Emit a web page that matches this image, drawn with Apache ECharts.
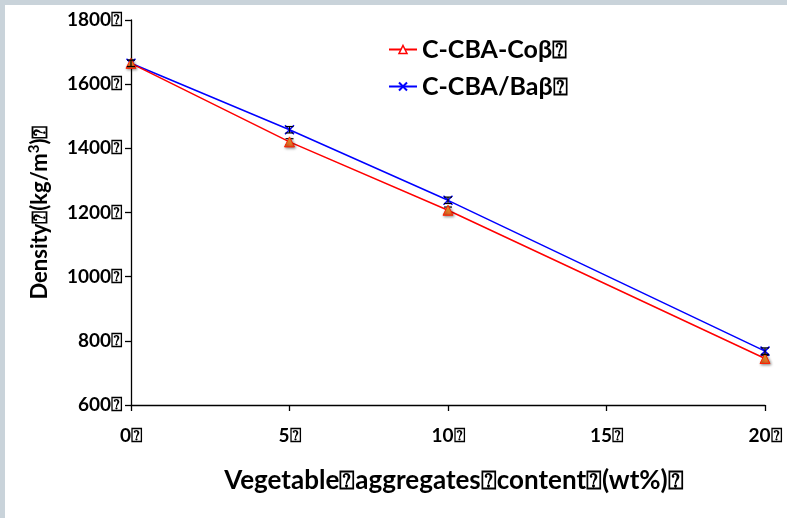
<!DOCTYPE html>
<html>
<head>
<meta charset="utf-8">
<script src="https://cdn.jsdelivr.net/npm/echarts@6/dist/echarts.min.js"></script>
<style>
  html, body { margin: 0; padding: 0; background: #c9d3da; }
  #frame { position: absolute; left: 5px; top: 5px; width: 782px; height: 513px; background: #ffffff; }
  #chart { position: absolute; left: -5px; top: -5px; width: 787px; height: 518px; }
</style>
</head>
<body>
<div id="frame"><div id="chart"></div></div>
<script>
// Aggregate content (wt%) and measured densities (kg/m3)
const contents = [0, 5, 10, 20];
const densityCo = [1665, 1420, 1207, 745];
const densityBa = [1665, 1458, 1238, 768];
const errCo = [10, 10, 10, 10];
const errBa = [10, 10, 10, 10];
const seriesNames = ['C-CBA-Co\u03B2\u2370', 'C-CBA/Ba\u03B2\u2370'];
const xTicks = [0, 5, 10, 15, 20];
const yTicks = [600, 800, 1000, 1200, 1400, 1600, 1800];

const FONT = 'Lato, "Open Sans", sans-serif';
const WEIGHT = 'bold';
const BOX = '\u2370';
const crossPath = 'path://M0,0 L10,10 M10,0 L0,10 Z';

function pairs(xs, ys) { return xs.map((x, i) => [x, ys[i]]); }
function errData(xs, ys, es) { return xs.map((x, i) => [x, ys[i] - es[i], ys[i] + es[i]]); }

function errorBar(params, api) {
  const x = api.value(0);
  const lo = api.coord([x, api.value(1)]);
  const hi = api.coord([x, api.value(2)]);
  const w = 4;
  const style = { stroke: '#000', lineWidth: 1.2 };
  return {
    type: 'group',
    children: [
      { type: 'line', shape: { x1: lo[0], y1: lo[1], x2: hi[0], y2: hi[1] }, style },
      { type: 'line', shape: { x1: lo[0] - w, y1: lo[1], x2: lo[0] + w, y2: lo[1] }, style },
      { type: 'line', shape: { x1: hi[0] - w, y1: hi[1], x2: hi[0] + w, y2: hi[1] }, style }
    ]
  };
}

const chart = echarts.init(document.getElementById('chart'));
chart.setOption({
  backgroundColor: 'transparent',
  animation: false,
  grid: { left: 131, top: 20, right: 22, bottom: 113 },
  legend: {
    left: 383, top: 32, orient: 'vertical', itemGap: 12,
    itemWidth: 28, itemHeight: 10,
    textStyle: { fontFamily: FONT, fontWeight: WEIGHT, fontSize: 25, color: '#000' },
    data: [
      { name: seriesNames[0], itemStyle: { color: '#fff', borderColor: '#ff0000', borderWidth: 1.5 } },
      { name: seriesNames[1] }
    ]
  },
  xAxis: {
    type: 'value', min: 0, max: 20, interval: 5,
    axisLine: { lineStyle: { color: '#000', width: 1.3 } },
    axisTick: { show: true, length: 6, inside: false, lineStyle: { color: '#000', width: 1.3 } },
    splitLine: { show: false },
    axisLabel: {
      margin: 21, fontFamily: FONT, fontWeight: WEIGHT, fontSize: 19, color: '#000',
      formatter: v => xTicks.includes(v) ? v + BOX : ''
    },
    name: 'Vegetable' + BOX + 'aggregates' + BOX + 'content' + BOX + '(wt%)' + BOX,
    nameLocation: 'middle', nameGap: 63,
    nameTextStyle: { fontFamily: FONT, fontWeight: WEIGHT, fontSize: 26, color: '#000', padding: [0, 0, 0, 12] }
  },
  yAxis: {
    type: 'value', min: 600, max: 1800, interval: 200,
    axisLine: { show: true, lineStyle: { color: '#000', width: 1.3 } },
    axisTick: { show: true, length: 6, lineStyle: { color: '#000', width: 1.3 } },
    splitLine: { show: false },
    axisLabel: {
      margin: 9, fontFamily: FONT, fontWeight: WEIGHT, fontSize: 19, color: '#000',
      formatter: v => yTicks.includes(v) ? v + BOX : ''
    },
    name: 'Density' + BOX + '(kg/m{sup|3})' + BOX,
    nameLocation: 'middle', nameGap: 79, nameRotate: 90,
    nameTextStyle: {
      fontFamily: FONT, fontWeight: WEIGHT, fontSize: 22, color: '#000',
      rich: { sup: { fontFamily: FONT, fontWeight: WEIGHT, fontSize: 15, color: '#000', verticalAlign: 'top', padding: [0, 0, 10, 0] } }
    }
  },
  series: [
    {
      name: seriesNames[1], type: 'line', data: pairs(contents, densityBa),
      symbol: crossPath, symbolSize: 9, z: 3,
      lineStyle: { color: '#0000ff', width: 1.5 },
      itemStyle: { color: '#0000ff', borderColor: '#0000ff', borderWidth: 1.5 }
    },
    {
      name: seriesNames[0], type: 'line', data: pairs(contents, densityCo),
      symbol: 'triangle', symbolSize: 10, z: 4,
      lineStyle: { color: '#ff0000', width: 1.5 },
      itemStyle: {
        color: new echarts.graphic.LinearGradient(0, 0, 0, 1, [
          { offset: 0, color: '#ffd23c' }, { offset: 1, color: '#e0501e' }
        ]),
        borderColor: '#ff2000', borderWidth: 1,
        shadowBlur: 3, shadowColor: 'rgba(0,0,0,0.45)', shadowOffsetX: 1, shadowOffsetY: 1
      }
    },
    {
      name: 'errBa', type: 'custom', renderItem: errorBar, z: 5,
      data: errData(contents, densityBa, errBa), silent: true
    },
    {
      name: 'errCo', type: 'custom', renderItem: errorBar, z: 2,
      data: errData(contents, densityCo, errCo), silent: true
    }
  ]
});
</script>
</body>
</html>
